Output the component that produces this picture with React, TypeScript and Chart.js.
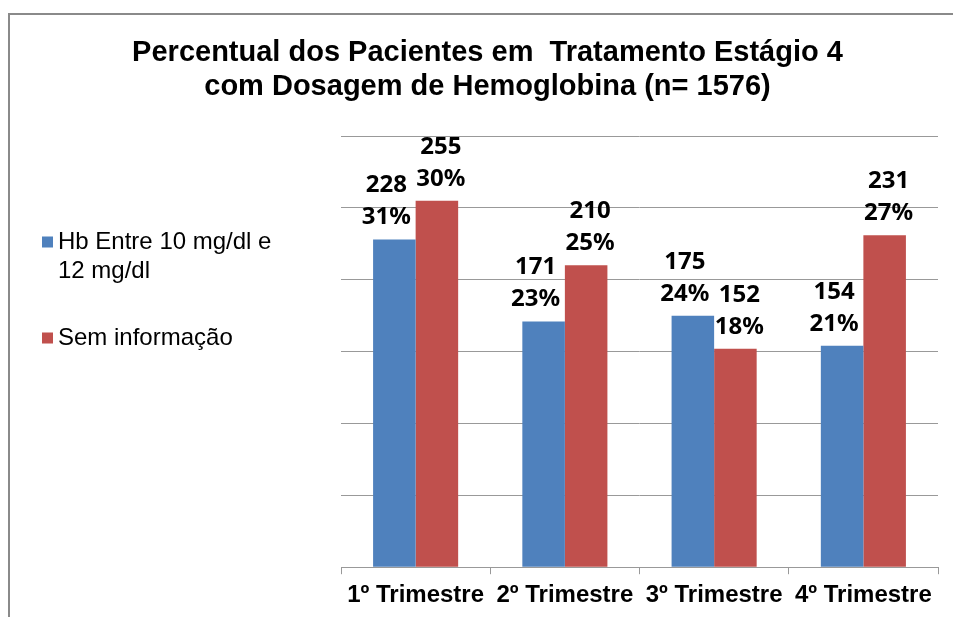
import React, { useEffect, useRef } from 'react';
import { Chart, registerables } from 'chart.js';

Chart.register(...registerables);

const categories = ['1º Trimestre', '2º Trimestre', '3º Trimestre', '4º Trimestre'];
const hbValues = [228, 171, 175, 154];
const hbPercents = [31, 23, 24, 21];
const semValues = [255, 210, 152, 231];
const semPercents = [30, 25, 18, 27];
const seriesNames = [['Hb Entre 10 mg/dl e', '12 mg/dl'], ['Sem informação']];
const seriesColors = ['#4F81BD', '#C0504D'];
const titleLines = ['Percentual dos Pacientes em  Tratamento Estágio 4', 'com Dosagem de Hemoglobina (n= 1576)'];
const yMin = 0;
const yMax = 300;
const yStep = 50;

const percentsBySeries = [hbPercents, semPercents];

const barLabelPlugin = {
  id: 'barLabels',
  afterDatasetsDraw(chart: any) {
    const ctx = chart.ctx;
    ctx.save();
    ctx.font = 'bold 24px "Noto Sans"';
    ctx.fillStyle = '#000';
    ctx.textAlign = 'center';
    ctx.textBaseline = 'middle';
    chart.data.datasets.forEach((ds: any, di: number) => {
      const meta = chart.getDatasetMeta(di);
      const shift = di === 0 ? -8 : 4;
      meta.data.forEach((bar: any, i: number) => {
        ctx.fillText(percentsBySeries[di][i] + '%', bar.x + shift, bar.y - 22);
        ctx.fillText(String(ds.data[i]), bar.x + shift, bar.y - 54);
      });
    });
    ctx.restore();
  },
};

const sideLegendPlugin = {
  id: 'sideLegend',
  afterDraw(chart: any) {
    const ctx = chart.ctx;
    ctx.save();
    ctx.font = '24px "Liberation Sans", Arial, sans-serif';
    ctx.textAlign = 'left';
    ctx.textBaseline = 'middle';
    const itemY = [242, 338];
    const lineH = 29;
    seriesNames.forEach((lines, i) => {
      const y = itemY[i];
      ctx.fillStyle = seriesColors[i];
      ctx.fillRect(42, y - 5.5, 11, 11);
      ctx.fillStyle = '#000';
      lines.forEach((t, li) => ctx.fillText(t, 58, y + li * lineH));
    });
    ctx.restore();
  },
};

export default function App() {
  const ref = useRef<HTMLCanvasElement>(null);
  useEffect(() => {
    const chart = new Chart(ref.current!, {
      type: 'bar',
      data: {
        labels: categories,
        datasets: [
          { label: seriesNames[0].join(' '), data: hbValues, backgroundColor: seriesColors[0], borderWidth: 0 },
          { label: seriesNames[1].join(' '), data: semValues, backgroundColor: seriesColors[1], borderWidth: 0 },
        ],
      },
      options: {
        responsive: false,
        animation: false,
        devicePixelRatio: 1,
        layout: { padding: 0 },
        datasets: { bar: { categoryPercentage: 0.57, barPercentage: 1.0 } },
        plugins: {
          legend: { display: false },
          tooltip: { enabled: false },
          title: {
            display: true,
            text: titleLines,
            color: '#000',
            font: { family: '"Liberation Sans", Arial, sans-serif', size: 29, weight: 'bold', lineHeight: 34 / 29 },
            padding: { top: 36, bottom: 32 },
          },
        },
        scales: {
          x: {
            grid: { offset: true, drawOnChartArea: false, drawTicks: true, tickLength: 7, color: '#999' },
            border: { display: true, color: '#999', width: 1 },
            ticks: {
              color: '#000',
              font: { family: '"Liberation Sans", Arial, sans-serif', size: 24, weight: 'bold' },
              padding: 7,
              maxRotation: 0,
              autoSkip: false,
            },
          },
          y: {
            min: yMin,
            max: yMax,
            ticks: { stepSize: yStep, display: false },
            grid: { color: '#999', drawTicks: false },
            border: { display: false },
            afterFit: (s: any) => { s.width = 341; },
          },
          y2: {
            type: 'linear',
            position: 'right',
            min: yMin,
            max: yMax,
            ticks: { display: false },
            grid: { display: false, drawTicks: false },
            border: { display: false },
            afterFit: (s: any) => { s.width = 37; },
          },
        },
      },
      plugins: [barLabelPlugin, sideLegendPlugin],
    } as any);
    return () => chart.destroy();
  }, []);
  return (
    <div style={{ position: 'fixed', left: 0, top: 0, width: 953, height: 617, overflow: 'hidden', background: '#fff' }}>
      <canvas ref={ref} width={975} height={617} style={{ position: 'absolute', left: 0, top: 0 }} />
      <div
        style={{
          position: 'absolute', left: 8, top: 13, width: 1100, height: 800,
          border: '2px solid #8a8a8a', boxSizing: 'border-box', pointerEvents: 'none',
        }}
      />
    </div>
  );
}
